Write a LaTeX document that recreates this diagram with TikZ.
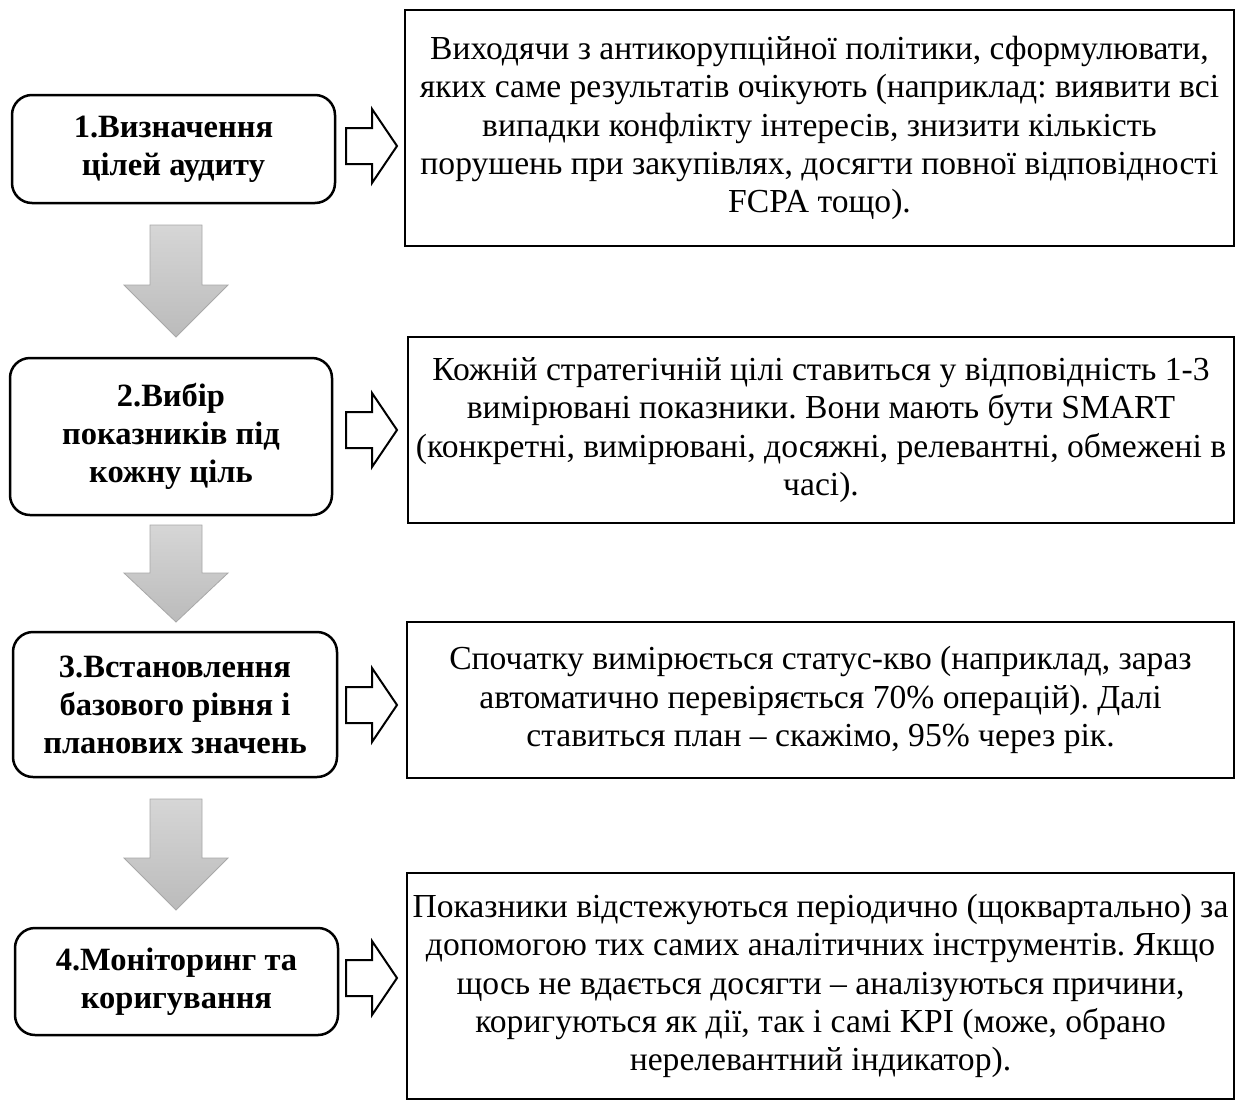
\documentclass[tikz,border=0pt]{standalone}
\usepackage{fontspec}
\setmainfont{Liberation Serif}
\frenchspacing
\definecolor{arrtop}{HTML}{D6D6D6}
\definecolor{arrbot}{HTML}{BBBBBB}
\definecolor{arredge}{HTML}{A8A8A8}
\tikzset{
  lbox/.style={draw=black, line width=2.5pt, rounded corners=20pt, align=center,
    font=\fontsize{32.5}{38}\selectfont\bfseries, inner sep=0pt},
  rbox/.style={draw=black, line width=2.5pt, align=center,
    font=\fontsize{33.6}{38.3}\selectfont\frenchspacing, inner sep=0pt},
  harrow/.style={draw=black, line width=2pt, fill=white, line join=miter},
  darrow/.style={draw=arredge, line width=0.8pt, top color=arrtop, bottom color=arrbot}
}
\newcommand\myharrow[1]{%
  \draw[harrow] (346,#1-18) -- (372,#1-18) -- (372,#1-37) -- (397,#1) --
    (372,#1+37) -- (372,#1+18) -- (346,#1+18) -- cycle;}
\newcommand\mydarrow[3]{%
  \draw[darrow] (150,#1) -- (202,#1) -- (202,#2) -- (228,#2) -- (176,#3) --
    (124,#2) -- (150,#2) -- cycle;}
\begin{document}
\begin{tikzpicture}[x=1pt,y=-1pt]
\useasboundingbox (0,0) rectangle (1238,1103);
\fill[white] (0,0) rectangle (1238,1103);

% left rounded boxes
\node[lbox, minimum width=323pt, minimum height=108pt] (b1) at (173.5,149)
  {1.Визначення\\цілей аудиту};
\node[lbox, minimum width=322pt, minimum height=157pt] (b2) at (171,436.5)
  {2.Вибір\\показників під\\кожну ціль};
\node[lbox, minimum width=324pt, minimum height=145pt] (b3) at (175,704.5)
  {3.Встановлення\\базового рівня і\\планових значень};
\node[lbox, minimum width=323pt, minimum height=107pt] (b4) at (176.5,981.5)
  {4.Моніторинг та\\коригування};

% right boxes
\node[rbox, minimum width=829pt, minimum height=236pt] (r1) at (819.5,128)
  {Виходячи з антикорупційної політики, сформулювати,\\
   яких саме результатів очікують (наприклад: виявити всі\\
   випадки конфлікту інтересів, знизити кількість\\
   порушень при закупівлях, досягти повної відповідності\\
   FCPA тощо).};
\node[rbox, minimum width=826pt, minimum height=186pt] (r2) at (821,430)
  {Кожній стратегічній цілі ставиться у відповідність 1-3\\
   вимірювані показники. Вони мають бути SMART\\
   (конкретні, вимірювані, досяжні, релевантні, обмежені в\\
   часі).};
\node[rbox, minimum width=827pt, minimum height=156pt] (r3) at (820.5,700)
  {Спочатку вимірюється статус-кво (наприклад, зараз\\
   автоматично перевіряється 70\% операцій). Далі\\
   ставиться план – скажімо, 95\% через рік.};
\node[rbox, minimum width=827pt, minimum height=226pt] (r4) at (820.5,986)
  {Показники відстежуються періодично (щоквартально) за\\
   допомогою тих самих аналітичних інструментів. Якщо\\
   щось не вдається досягти – аналізуються причини,\\
   коригуються як дії, так і самі KPI (може, обрано\\
   нерелевантний індикатор).};

% hollow right arrows
\myharrow{146}
\myharrow{430}
\myharrow{705}
\myharrow{978}

% gray down arrows
\mydarrow{225}{285}{337}
\mydarrow{525}{573}{622}
\mydarrow{799}{858}{910}
\end{tikzpicture}
\end{document}
